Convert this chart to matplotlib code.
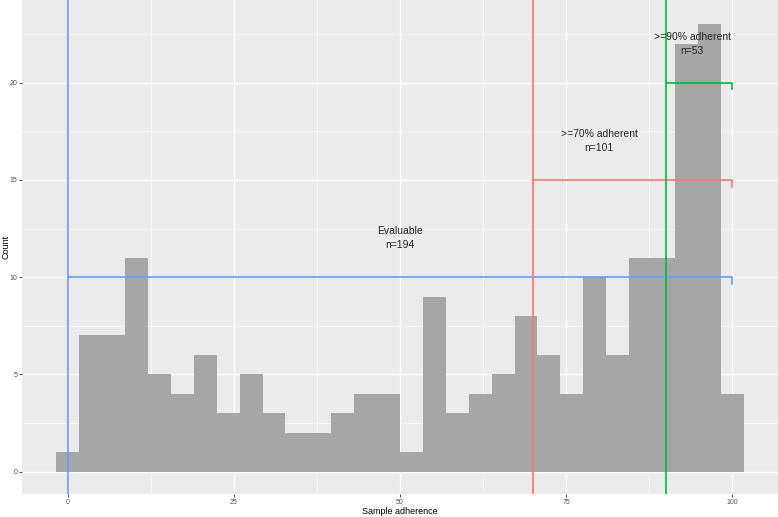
import numpy as np
import matplotlib
matplotlib.use("Agg")
import matplotlib.pyplot as plt

# histogram bins (ggplot default: 30 bins over 0..100, centred on 0 and 100)
bin_centers = np.linspace(0, 100, 30)
counts = [1, 7, 7, 11, 5, 4, 6, 3, 5, 3,
          2, 2, 3, 4, 4, 1, 9, 3, 4, 5,
          8, 6, 4, 10, 6, 11, 11, 22, 23, 4]

# threshold brackets: start x, level y, colour, label, label position
thresholds = [0, 70, 90]
levels = [10, 15, 20]
colors = ["#619CFF", "#F8766D", "#00BA38"]
labels = ["Evaluable\nn=194", ">=70% adherent\nn=101", ">=90% adherent\nn=53"]
label_x = [50, 80, 94]
label_y = [12, 17, 22]
end_x = 100

plt.rcParams["font.family"] = ["Liberation Sans", "DejaVu Sans"]

fig = plt.figure(figsize=(7.78, 5.17), dpi=100)
ax = fig.add_axes([22 / 778, 23 / 517, 756 / 778, 494 / 517])
ax.set_facecolor("#EBEBEB")

width = bin_centers[1] - bin_centers[0]
ax.bar(bin_centers, counts, width=width, color="#A6A6A6", linewidth=0, zorder=2)

for x0, y, c in zip(thresholds, levels, colors):
    ax.axvline(x0, color=c, lw=1.2, zorder=3)
    ax.plot([x0, end_x, end_x], [y, y, y - 0.35], color=c, lw=1.2, zorder=3)

for x, y, t in zip(label_x, label_y, labels):
    ax.text(x, y, t, ha="center", va="center", fontsize=7.5, color="#222222",
            linespacing=1.5, zorder=4)

ax.set_xlim(-6.9, 106.9)
ax.set_ylim(-1.15, 24.25)
ax.set_xticks([0, 25, 50, 75, 100])
ax.set_yticks([0, 5, 10, 15, 20])
ax.set_xticks([12.5, 37.5, 62.5, 87.5], minor=True)
ax.set_yticks([2.5, 7.5, 12.5, 17.5, 22.5], minor=True)
ax.grid(which="major", color="white", lw=1.0, zorder=0)
ax.grid(which="minor", color="white", lw=0.5, zorder=0)
ax.set_axisbelow(True)
for s in ax.spines.values():
    s.set_visible(False)
ax.tick_params(which="major", length=2, width=0.6, color="#333333",
               labelsize=5, labelcolor="#4D4D4D", pad=1.5)
ax.tick_params(which="minor", length=0)

ax.set_xlabel("Sample adherence", fontsize=6.5, labelpad=1)
ax.set_ylabel("Count", fontsize=6.5, va="center")
ax.yaxis.set_label_coords(-16 / 756, 0.5)

fig.savefig("out.png", dpi=100)
